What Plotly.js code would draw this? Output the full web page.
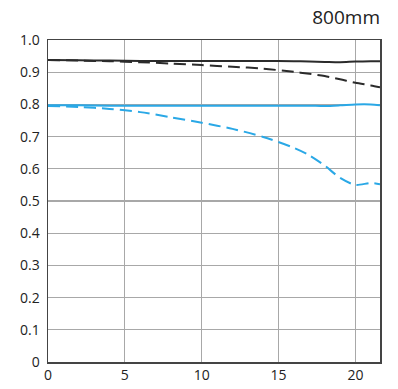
<!DOCTYPE html>
<html>
<head>
<meta charset="utf-8">
<script src="https://cdn.plot.ly/plotly-3.0.1.min.js"></script>
<style>html,body{margin:0;padding:0;background:#fff;}#chart{width:398px;height:389px;}</style>
</head>
<body>
<div id="chart"></div>
<script>
var imageHeight = [0, 2, 4, 6, 8, 10, 12, 14, 16, 17, 18, 19, 20, 21, 21.6];
var blackSolid  = [0.938, 0.937, 0.936, 0.935, 0.935, 0.935, 0.935, 0.935, 0.934, 0.933, 0.932, 0.931, 0.933, 0.934, 0.934];
var blackDashed = [0.938, 0.936, 0.934, 0.931, 0.927, 0.922, 0.917, 0.911, 0.901, 0.895, 0.888, 0.878, 0.867, 0.859, 0.853];
var blueSolid   = [0.797, 0.797, 0.796, 0.796, 0.796, 0.796, 0.796, 0.796, 0.796, 0.796, 0.795, 0.797, 0.800, 0.800, 0.797];
var blueDashed  = [0.795, 0.792, 0.786, 0.776, 0.760, 0.743, 0.724, 0.699, 0.665, 0.642, 0.610, 0.572, 0.550, 0.556, 0.552];
var xTicks = [0, 5, 10, 15, 20];
var yTicks = [0, 0.1, 0.2, 0.3, 0.4, 0.5, 0.6, 0.7, 0.8, 0.9, 1.0];
var yTickText = ["0", "0.1", "0.2", "0.3", "0.4", "0.5", "0.6", "0.7", "0.8", "0.9", "1.0"];
var chartTitle = "800mm";

var black = "#2b2b2b", blue = "#2aa8e6";
function tr(y, color, dash) {
  return {x: imageHeight, y: y, mode: "lines", line: {color: color, width: 2, dash: dash, shape: "spline", smoothing: 0.8}, hoverinfo: "skip"};
}
var data = [
  tr(blackSolid, black, "solid"),
  tr(blackDashed, black, "12px,6px"),
  tr(blueSolid, blue, "solid"),
  tr(blueDashed, blue, "12px,6px")
];
var font = {family: "Open Sans, sans-serif", size: 14, color: "#222"};
var layout = {
  width: 398, height: 389,
  margin: {l: 48, r: 18, t: 40, b: 27},
  paper_bgcolor: "#fff", plot_bgcolor: "#fff",
  showlegend: false,
  font: font,
  title: {text: chartTitle, x: 1, xref: "paper", xanchor: "right", y: 1, yref: "container", yanchor: "top", pad: {t: 11, r: 0},
          font: {family: "Open Sans, sans-serif", size: 19, color: "#222"}},
  xaxis: {range: [0, 21.6], tickvals: xTicks, ticks: "", showgrid: true, gridcolor: "#a8a8a8", gridwidth: 1.2,
          showline: true, linecolor: "#444", linewidth: 1.5, mirror: true, zeroline: false, fixedrange: true, tickfont: font},
  yaxis: {range: [0, 1.0], tickvals: yTicks, ticktext: yTickText, ticks: "", ticklabelstandoff: 4, showgrid: true, gridcolor: "#a8a8a8", gridwidth: 1.2,
          showline: true, linecolor: "#444", linewidth: 1.5, mirror: true, zeroline: false, fixedrange: true, tickfont: font}
};
Plotly.newPlot("chart", data, layout, {displayModeBar: false, staticPlot: true});
</script>
</body>
</html>
